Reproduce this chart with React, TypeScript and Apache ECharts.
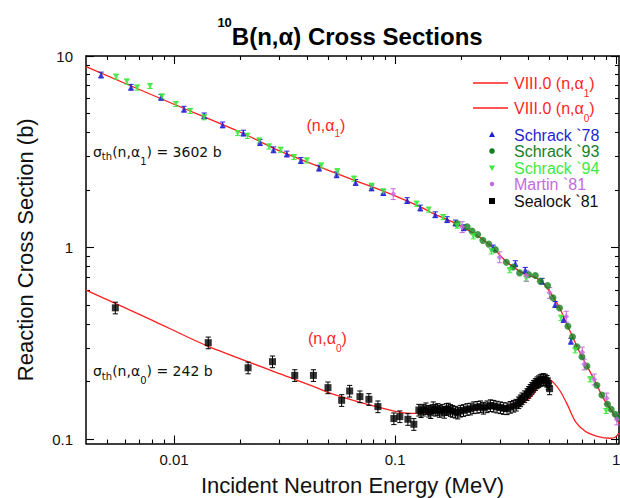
import { useEffect, useRef } from 'react';
import * as echarts from 'echarts';

// ---------- axis ranges & ticks ----------
const xExtent = [0.004, 1.03];
const yExtent = [0.095, 10];

const xMajorTicks = [0.01, 0.1, 1];
const xTickLabels = ['0.01', '0.1', '1'];
const xMinorTicks = [0.005, 0.006, 0.007, 0.008, 0.009, 0.02, 0.03, 0.04, 0.05, 0.06, 0.07, 0.08, 0.09, 0.2, 0.3, 0.4, 0.5, 0.6, 0.7, 0.8, 0.9];
const yMajorTicks = [0.1, 1, 10];
const yTickLabels = ['0.1', '1', '10'];
const yMinorTicks = [0.2, 0.3, 0.4, 0.5, 0.6, 0.7, 0.8, 0.9, 2, 3, 4, 5, 6, 7, 8, 9];

// ---------- ENDF/B-VIII.0 evaluations ----------
const endfA1E = [0.004, 0.01, 0.02, 0.03, 0.04, 0.06, 0.08, 0.1, 0.13, 0.15, 0.19, 0.22, 0.25, 0.28, 0.32, 0.35, 0.37, 0.4, 0.43, 0.46, 0.49, 0.52, 0.555, 0.6, 0.635, 0.665, 0.7, 0.74, 0.82, 0.86, 0.91, 0.95, 0.99, 1.03];
const endfA1S = [8.8, 5.6, 4.0, 3.2, 2.8, 2.33, 2.06, 1.86, 1.63, 1.5, 1.33, 1.21, 1.1, 0.985, 0.84, 0.78, 0.745, 0.715, 0.7, 0.665, 0.61, 0.55, 0.485, 0.395, 0.343, 0.304, 0.27, 0.24, 0.191, 0.17, 0.152, 0.142, 0.131, 0.121];

const endfA0E = [0.004, 0.0079, 0.0142, 0.0374, 0.0461, 0.0528, 0.0751, 0.1059, 0.1238, 0.1492, 0.2125, 0.2995, 0.3573, 0.389, 0.4219, 0.45, 0.4683, 0.4932, 0.5195, 0.5587, 0.601, 0.653, 0.7245, 0.821, 0.939, 0.99, 1.03];
const endfA0S = [0.6, 0.42, 0.306, 0.2, 0.182, 0.1715, 0.152, 0.1382, 0.1366, 0.1382, 0.1433, 0.1468, 0.1486, 0.158, 0.1715, 0.193, 0.2005, 0.2054, 0.198, 0.178, 0.152, 0.124, 0.11, 0.1036, 0.1012, 0.1024, 0.1075];

// ---------- measurements ----------
const schrack78E = [0.00468, 0.00639, 0.00874, 0.0111, 0.0137, 0.0166, 0.0206, 0.0245, 0.0282, 0.0324, 0.0375, 0.0453, 0.0544, 0.0663, 0.0783, 0.0885, 0.1135, 0.13, 0.152, 0.172, 0.1875, 0.2045, 0.2775, 0.35, 0.388, 0.462, 0.53, 0.578, 0.6245];
const schrack78S = [7.96, 6.87, 6.09, 5.28, 4.87, 4.37, 3.96, 3.54, 3.24, 3.08, 2.85, 2.6, 2.4, 2.19, 2.05, 1.94, 1.76, 1.61, 1.485, 1.4, 1.345, 1.27, 0.996, 0.825, 0.762, 0.668, 0.505, 0.422, 0.325];

const schrack93E = [0.1909, 0.2118, 0.2231, 0.2365, 0.2496, 0.2652, 0.2842, 0.3187, 0.3417, 0.366, 0.4018, 0.4309, 0.4539, 0.4896, 0.5178, 0.5546, 0.6051, 0.6348, 0.6647, 0.7002, 0.7374, 0.8181, 0.8619, 0.9135, 0.9493, 0.9897, 1.024];
const schrack93S = [1.334, 1.286, 1.219, 1.169, 1.091, 1.043, 0.976, 0.838, 0.793, 0.738, 0.723, 0.715, 0.668, 0.634, 0.547, 0.484, 0.389, 0.3426, 0.304, 0.2696, 0.2408, 0.1911, 0.1701, 0.1521, 0.1433, 0.135, 0.1282];

const schrack94E = [0.00547, 0.00612, 0.00681, 0.00779, 0.00883, 0.0102, 0.01185, 0.0137, 0.0194, 0.0215, 0.0243, 0.0269, 0.0304, 0.0349, 0.0399, 0.0464, 0.0548, 0.0652, 0.0783, 0.0885, 0.125, 0.142, 0.165, 0.191, 0.226, 0.273, 0.33, 0.392, 0.563, 0.653, 0.763, 0.901];
const schrack94S = [7.8, 7.35, 6.84, 6.98, 6.14, 5.62, 5.17, 4.79, 3.96, 3.83, 3.62, 3.37, 3.24, 2.97, 2.85, 2.68, 2.5, 2.29, 2.1, 1.965, 1.695, 1.578, 1.445, 1.302, 1.145, 0.956, 0.762, 0.687, 0.43, 0.291, 0.2054, 0.1404];

const martin81E = [0.0981, 0.2011, 0.2972, 0.3924, 0.5, 0.5946, 0.7024, 0.7171, 0.7957, 0.906, 1.007];
const martin81S = [1.905, 1.282, 0.892, 0.715, 0.581, 0.437, 0.284, 0.246, 0.2054, 0.1635, 0.1271];

const sealock81E = [0.00543, 0.01429, 0.02164, 0.0279, 0.03518, 0.04272, 0.04972, 0.05733, 0.06231, 0.06936, 0.07614, 0.08364, 0.09876, 0.1051, 0.1143, 0.1216, 0.1281, 0.131, 0.134, 0.138, 0.1421, 0.145, 0.1488, 0.152, 0.156, 0.159, 0.1633, 0.167, 0.1708, 0.174, 0.1781, 0.182, 0.1875, 0.192, 0.1975, 0.204, 0.2118, 0.219, 0.2269, 0.235, 0.2432, 0.251, 0.2607, 0.27, 0.2793, 0.289, 0.2995, 0.31, 0.3209, 0.332, 0.3437, 0.353, 0.3622, 0.369, 0.3753, 0.385, 0.3953, 0.402, 0.4089, 0.416, 0.423, 0.431, 0.4385, 0.446, 0.4539, 0.462, 0.4696, 0.478, 0.4866, 0.493, 0.5];
const sealock81S = [0.485, 0.319, 0.236, 0.254, 0.2154, 0.2154, 0.1859, 0.1596, 0.1785, 0.1669, 0.1616, 0.148, 0.1282, 0.1313, 0.1271, 0.1197, 0.1421, 0.1395, 0.1421, 0.1445, 0.1404, 0.138, 0.1463, 0.142, 0.1433, 0.14, 0.1421, 0.1385, 0.1433, 0.144, 0.1416, 0.14, 0.1387, 0.1372, 0.1404, 0.1415, 0.1433, 0.144, 0.1463, 0.147, 0.148, 0.1455, 0.148, 0.15, 0.149, 0.1475, 0.1463, 0.145, 0.1445, 0.147, 0.149, 0.151, 0.1553, 0.159, 0.1629, 0.167, 0.1715, 0.176, 0.1806, 0.185, 0.1895, 0.1935, 0.1974, 0.2, 0.203, 0.2045, 0.2054, 0.204, 0.2011, 0.195, 0.1836];

// relative uncertainties shown as error bars
const errSchrack78 = 0.035;
const errSchrack94 = 0.03;
const errMartin81 = 0.065;
const errSealock81 = 0.07;

// ---------- styles ----------
const RED = '#ff1f1f';
const C78 = '#1f1fd2';
const C93 = '#15801f';
const C94 = '#3fe83f';
const CM81 = '#c46ae2';
const CSEA = '#000000';
const LAT = 'Liberation Sans';
const DJV = 'DejaVu Sans';

const zip = (a: number[], b: number[]) => a.map((v, i) => [v, b[i]]);
const errData = (a: number[], b: number[], r: number) => a.map((v, i) => [v, b[i] * (1 - r), b[i] * (1 + r)]);

function fmt(ticks: number[], labels: string[]) {
  return (v: number) => {
    const i = ticks.findIndex((t) => Math.abs(v / t - 1) < 1e-6);
    return i >= 0 ? labels[i] : '';
  };
}

const axisLineStyle = { color: '#000', width: 1.5 };

function axisDef(kind: 'x' | 'y', position: string, ticks: number[], len: number, showLine: boolean, extra: any = {}) {
  const ext = kind === 'x' ? xExtent : yExtent;
  return {
    type: 'log',
    logBase: 10,
    min: ext[0],
    max: ext[1],
    gridIndex: 0,
    position,
    axisLine: { show: showLine, onZero: false, lineStyle: axisLineStyle },
    axisTick: { show: true, inside: true, length: len, customValues: ticks, lineStyle: { color: '#000', width: 1.1 } },
    axisLabel: { show: false },
    splitLine: { show: false },
    minorTick: { show: false },
    minorSplitLine: { show: false },
    nameMoveOverlap: false,
    ...extra,
  };
}

function errSeries(data: number[][], color: string) {
  return {
    type: 'custom',
    data,
    encode: { x: 0, y: [1, 2] },
    z: 3,
    silent: true,
    renderItem: (_p: any, api: any) => {
      const x = api.value(0);
      const a = api.coord([x, api.value(1)]);
      const b = api.coord([x, api.value(2)]);
      const w = 2.6;
      const st = { stroke: color, lineWidth: 1 };
      return {
        type: 'group',
        children: [
          { type: 'line', shape: { x1: a[0], y1: a[1], x2: b[0], y2: b[1] }, style: st },
          { type: 'line', shape: { x1: a[0] - w, y1: a[1], x2: a[0] + w, y2: a[1] }, style: st },
          { type: 'line', shape: { x1: b[0] - w, y1: b[1], x2: b[0] + w, y2: b[1] }, style: st },
        ],
      };
    },
  };
}

function richText(x: number, y: number, text: string, rich: any) {
  return {
    type: 'text',
    x,
    y,
    silent: true,
    style: { text, rich, align: 'left', verticalAlign: 'middle', textAlign: 'left', textVerticalAlign: 'middle' },
  };
}

const legendRich = (color: string) => ({
  m: { fontSize: 16, fontFamily: LAT, fill: color },
  s: { fontSize: 10, fontFamily: LAT, fill: color, padding: [20, 0, 0, 0] },
});

export default function App() {
  const ref = useRef<HTMLDivElement>(null);

  useEffect(() => {
    const chart = echarts.init(ref.current!, null, { renderer: 'svg' });

    const option: any = {
      animation: false,
      backgroundColor: '#ffffff',
      grid: { left: 86, right: 1, top: 56, bottom: 54.5, containLabel: false, outerBoundsMode: 'none' },
      xAxis: [
        axisDef('x', 'bottom', xMajorTicks, 8, true, {
          axisLabel: { show: true, customValues: xMajorTicks, formatter: fmt(xMajorTicks, xTickLabels), fontFamily: LAT, fontSize: 15, color: '#111', margin: 8 },
          name: 'Incident Neutron Energy (MeV)',
          nameLocation: 'middle',
          nameGap: 31,
          nameTextStyle: { fontFamily: LAT, fontSize: 22, color: '#111' },
        }),
        axisDef('x', 'bottom', xMinorTicks, 4, false),
        axisDef('x', 'top', xMajorTicks, 8, true),
        axisDef('x', 'top', xMinorTicks, 4, false),
      ],
      yAxis: [
        axisDef('y', 'left', yMajorTicks, 8, true, {
          axisLabel: { show: true, customValues: yMajorTicks, formatter: fmt(yMajorTicks, yTickLabels), fontFamily: LAT, fontSize: 15, color: '#111', margin: 13 },
          name: 'Reaction Cross Section (b)',
          nameLocation: 'middle',
          nameGap: 50,
          nameTextStyle: { fontFamily: LAT, fontSize: 22, color: '#111' },
        }),
        axisDef('y', 'left', yMinorTicks, 4, false),
        axisDef('y', 'right', yMajorTicks, 8, true),
        axisDef('y', 'right', yMinorTicks, 4, false),
      ],
      series: [
        { type: 'line', name: 'VIII.0 (n,α1)', data: zip(endfA1E, endfA1S), symbol: 'none', showSymbol: false, smooth: 0.25, lineStyle: { color: RED, width: 1.3 }, z: 2, silent: true },
        { type: 'line', name: 'VIII.0 (n,α0)', data: zip(endfA0E, endfA0S), symbol: 'none', showSymbol: false, smooth: 0.25, lineStyle: { color: RED, width: 1.3 }, z: 2, silent: true },
        errSeries(errData(schrack78E, schrack78S, errSchrack78), C78),
        errSeries(errData(schrack94E, schrack94S, errSchrack94), C94),
        errSeries(errData(martin81E, martin81S, errMartin81), CM81),
        errSeries(errData(sealock81E, sealock81S, errSealock81), CSEA),
        { type: 'scatter', name: 'Schrack `78', data: zip(schrack78E, schrack78S), symbol: 'triangle', symbolSize: 6, itemStyle: { color: C78 }, z: 5, silent: true },
        { type: 'scatter', name: 'Schrack `93', data: zip(schrack93E, schrack93S), symbol: 'circle', symbolSize: 7, itemStyle: { color: C93 }, z: 5, silent: true },
        { type: 'scatter', name: 'Schrack `94', data: zip(schrack94E, schrack94S), symbol: 'triangle', symbolRotate: 180, symbolSize: 6, itemStyle: { color: C94 }, z: 5, silent: true },
        { type: 'scatter', name: 'Martin `81', data: zip(martin81E, martin81S), symbol: 'diamond', symbolSize: 6, itemStyle: { color: CM81 }, z: 5, silent: true },
        { type: 'scatter', name: 'Sealock `81', data: zip(sealock81E, sealock81S), symbol: 'rect', symbolSize: 7, itemStyle: { color: CSEA }, z: 5, silent: true },
      ],
      graphic: [
        // title
        {
          type: 'text', x: 350, y: 36.5, silent: true,
          style: {
            text: '{sup|10}{m|B(n,α) Cross Sections}',
            align: 'center', verticalAlign: 'middle', textAlign: 'center', textVerticalAlign: 'middle',
            rich: {
              sup: { fontSize: 13, fontWeight: 'bold', fontFamily: LAT, fill: '#000', padding: [0, 0, 28, 0] },
              m: { fontSize: 24, fontWeight: 'bold', fontFamily: LAT, fill: '#000' },
            },
          },
        },
        // thermal annotations
        richText(93, 151.5, '{m|σ}{t|th}{m|(n,α}{s|1}{m|) = 3602 b}', {
          m: { fontSize: 14, fontFamily: DJV, fill: '#111' },
          t: { fontSize: 10, fontFamily: DJV, fill: '#111', padding: [10, 0, 0, 0] },
          s: { fontSize: 10, fontFamily: DJV, fill: '#111', padding: [19, 0, 0, 0] },
        }),
        richText(93, 371, '{m|σ}{t|th}{m|(n,α}{s|0}{m|) = 242 b}', {
          m: { fontSize: 14, fontFamily: DJV, fill: '#111' },
          t: { fontSize: 10, fontFamily: DJV, fill: '#111', padding: [10, 0, 0, 0] },
          s: { fontSize: 10, fontFamily: DJV, fill: '#111', padding: [19, 0, 0, 0] },
        }),
        richText(306.5, 125, '{m|(n,α}{s|1}{m|)}', {
          m: { fontSize: 16, fontFamily: LAT, fill: RED },
          s: { fontSize: 10, fontFamily: LAT, fill: RED, padding: [17, 0, 0, 0] },
        }),
        richText(308, 338.5, '{m|(n,α}{s|0}{m|)}', {
          m: { fontSize: 16, fontFamily: LAT, fill: RED },
          s: { fontSize: 10, fontFamily: LAT, fill: RED, padding: [19, 0, 0, 0] },
        }),
        // legend
        { type: 'line', silent: true, shape: { x1: 473, y1: 83, x2: 508, y2: 83 }, style: { stroke: RED, lineWidth: 1.3 } },
        richText(514, 83, '{m|VIII.0 (n,α}{s|1}{m|)}', legendRich(RED)),
        { type: 'line', silent: true, shape: { x1: 473, y1: 108, x2: 508, y2: 108 }, style: { stroke: RED, lineWidth: 1.3 } },
        richText(514, 108, '{m|VIII.0 (n,α}{s|0}{m|)}', legendRich(RED)),
        { type: 'polygon', silent: true, shape: { points: [[492, 131.5], [495, 137], [489, 137]] }, style: { fill: C78 } },
        richText(514, 135, '{m|Schrack `78}', legendRich(C78)),
        { type: 'circle', silent: true, shape: { cx: 492, cy: 151, r: 2.8 }, style: { fill: C93 } },
        richText(514, 151.5, '{m|Schrack `93}', legendRich(C93)),
        { type: 'polygon', silent: true, shape: { points: [[489, 165.5], [495, 165.5], [492, 171]] }, style: { fill: C94 } },
        richText(514, 168, '{m|Schrack `94}', legendRich(C94)),
        { type: 'circle', silent: true, shape: { cx: 492, cy: 184, r: 2.2 }, style: { fill: CM81 } },
        richText(514, 184.5, '{m|Martin `81}', legendRich(CM81)),
        { type: 'rect', silent: true, shape: { x: 489, y: 198, width: 6, height: 6 }, style: { fill: CSEA } },
        richText(514, 201.5, '{m|Sealock `81}', legendRich('#111')),
      ],
    };

    chart.setOption(option);
    return () => chart.dispose();
  }, []);

  return <div ref={ref} style={{ position: 'fixed', left: 0, top: 0, width: 620, height: 498 }} />;
}
